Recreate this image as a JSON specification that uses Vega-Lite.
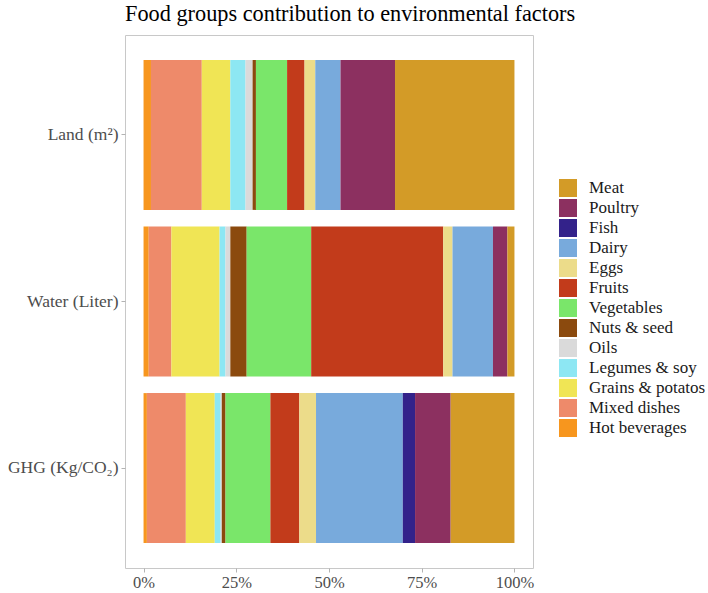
{
  "$schema": "https://vega.github.io/schema/vega-lite/v6.json",
  "autosize": "none",
  "padding": {"left": 125, "top": 35, "right": 175, "bottom": 25},
  "width": 408,
  "height": 533,
  "background": "white",
  "title": {
    "text": "Food groups contribution to environmental factors",
    "anchor": "start",
    "frame": "group",
    "font": "Liberation Serif",
    "fontSize": 22.3,
    "fontWeight": "normal",
    "color": "#000000",
    "offset": 10
  },
  "config": {
    "view": {"stroke": "#C8C8C8", "strokeWidth": 1},
    "font": "Liberation Serif",
    "axis": {"grid": false, "domain": false, "tickColor": "#B3B3B3", "tickSize": 4, "labelColor": "#4D4D4D", "labelFont": "Liberation Serif", "title": null}
  },
  "data": {
    "values": [
      {"factor": "Land (m²)", "group": "Hot beverages", "value": 2.0},
      {"factor": "Land (m²)", "group": "Mixed dishes", "value": 13.7},
      {"factor": "Land (m²)", "group": "Grains & potatos", "value": 7.7},
      {"factor": "Land (m²)", "group": "Legumes & soy", "value": 4.1},
      {"factor": "Land (m²)", "group": "Oils", "value": 1.9},
      {"factor": "Land (m²)", "group": "Nuts & seed", "value": 0.9},
      {"factor": "Land (m²)", "group": "Vegetables", "value": 8.4},
      {"factor": "Land (m²)", "group": "Fruits", "value": 4.7},
      {"factor": "Land (m²)", "group": "Eggs", "value": 2.9},
      {"factor": "Land (m²)", "group": "Dairy", "value": 6.8},
      {"factor": "Land (m²)", "group": "Fish", "value": 0},
      {"factor": "Land (m²)", "group": "Poultry", "value": 14.7},
      {"factor": "Land (m²)", "group": "Meat", "value": 32.2},
      {"factor": "Water (Liter)", "group": "Hot beverages", "value": 1.4},
      {"factor": "Water (Liter)", "group": "Mixed dishes", "value": 6.1},
      {"factor": "Water (Liter)", "group": "Grains & potatos", "value": 13.0},
      {"factor": "Water (Liter)", "group": "Legumes & soy", "value": 1.6},
      {"factor": "Water (Liter)", "group": "Oils", "value": 1.3},
      {"factor": "Water (Liter)", "group": "Nuts & seed", "value": 4.4},
      {"factor": "Water (Liter)", "group": "Vegetables", "value": 17.4},
      {"factor": "Water (Liter)", "group": "Fruits", "value": 35.6},
      {"factor": "Water (Liter)", "group": "Eggs", "value": 2.5},
      {"factor": "Water (Liter)", "group": "Dairy", "value": 10.9},
      {"factor": "Water (Liter)", "group": "Fish", "value": 0},
      {"factor": "Water (Liter)", "group": "Poultry", "value": 3.9},
      {"factor": "Water (Liter)", "group": "Meat", "value": 1.9},
      {"factor": "GHG (Kg/CO₂)", "group": "Hot beverages", "value": 0.9},
      {"factor": "GHG (Kg/CO₂)", "group": "Mixed dishes", "value": 10.5},
      {"factor": "GHG (Kg/CO₂)", "group": "Grains & potatos", "value": 7.8},
      {"factor": "GHG (Kg/CO₂)", "group": "Legumes & soy", "value": 1.6},
      {"factor": "GHG (Kg/CO₂)", "group": "Oils", "value": 0.3},
      {"factor": "GHG (Kg/CO₂)", "group": "Nuts & seed", "value": 1.0},
      {"factor": "GHG (Kg/CO₂)", "group": "Vegetables", "value": 12.1},
      {"factor": "GHG (Kg/CO₂)", "group": "Fruits", "value": 7.8},
      {"factor": "GHG (Kg/CO₂)", "group": "Eggs", "value": 4.5},
      {"factor": "GHG (Kg/CO₂)", "group": "Dairy", "value": 23.4},
      {"factor": "GHG (Kg/CO₂)", "group": "Fish", "value": 3.3},
      {"factor": "GHG (Kg/CO₂)", "group": "Poultry", "value": 9.6},
      {"factor": "GHG (Kg/CO₂)", "group": "Meat", "value": 17.2}
    ]
  },
  "transform": [
    {"calculate": "indexof(['Meat','Poultry','Fish','Dairy','Eggs','Fruits','Vegetables','Nuts & seed','Oils','Legumes & soy','Grains & potatos','Mixed dishes','Hot beverages'], datum.group)", "as": "k"}
  ],
  "mark": {"type": "bar", "strokeWidth": 0},
  "encoding": {
    "y": {
      "field": "factor",
      "type": "nominal",
      "sort": ["Land (m²)", "Water (Liter)", "GHG (Kg/CO₂)"],
      "scale": {"paddingInner": 0.1, "paddingOuter": 0.15},
      "axis": {"labelFontSize": 17.5, "labelPadding": 3}
    },
    "x": {
      "field": "value",
      "type": "quantitative",
      "stack": "zero",
      "scale": {"domain": [-5, 105], "nice": false, "zero": false},
      "axis": {"values": [0, 25, 50, 75, 100], "labelExpr": "datum.value + '%'", "labelFontSize": 16.5, "labelPadding": 2}
    },
    "order": {"field": "k", "type": "quantitative", "sort": "descending"},
    "color": {
      "field": "group",
      "type": "nominal",
      "scale": {
        "domain": ["Meat", "Poultry", "Fish", "Dairy", "Eggs", "Fruits", "Vegetables", "Nuts & seed", "Oils", "Legumes & soy", "Grains & potatos", "Mixed dishes", "Hot beverages"],
        "range": ["#D39B27", "#8C3060", "#33228A", "#78AADC", "#ECDC8A", "#C23B1B", "#7AE66A", "#8B4A0E", "#DADADA", "#8DE7F3", "#F0E555", "#EE8A6A", "#F7961E"]
      },
      "legend": {
        "title": null,
        "orient": "none",
        "legendX": 434,
        "legendY": 144,
        "padding": 0,
        "symbolType": "square",
        "symbolSize": 324,
        "symbolStrokeWidth": 0,
        "symbolOpacity": 1,
        "rowPadding": 2,
        "labelOffset": 12,
        "labelFont": "Liberation Serif",
        "labelFontSize": 17,
        "labelColor": "#1A1A1A",
        "labelLimit": 200
      }
    }
  }
}
